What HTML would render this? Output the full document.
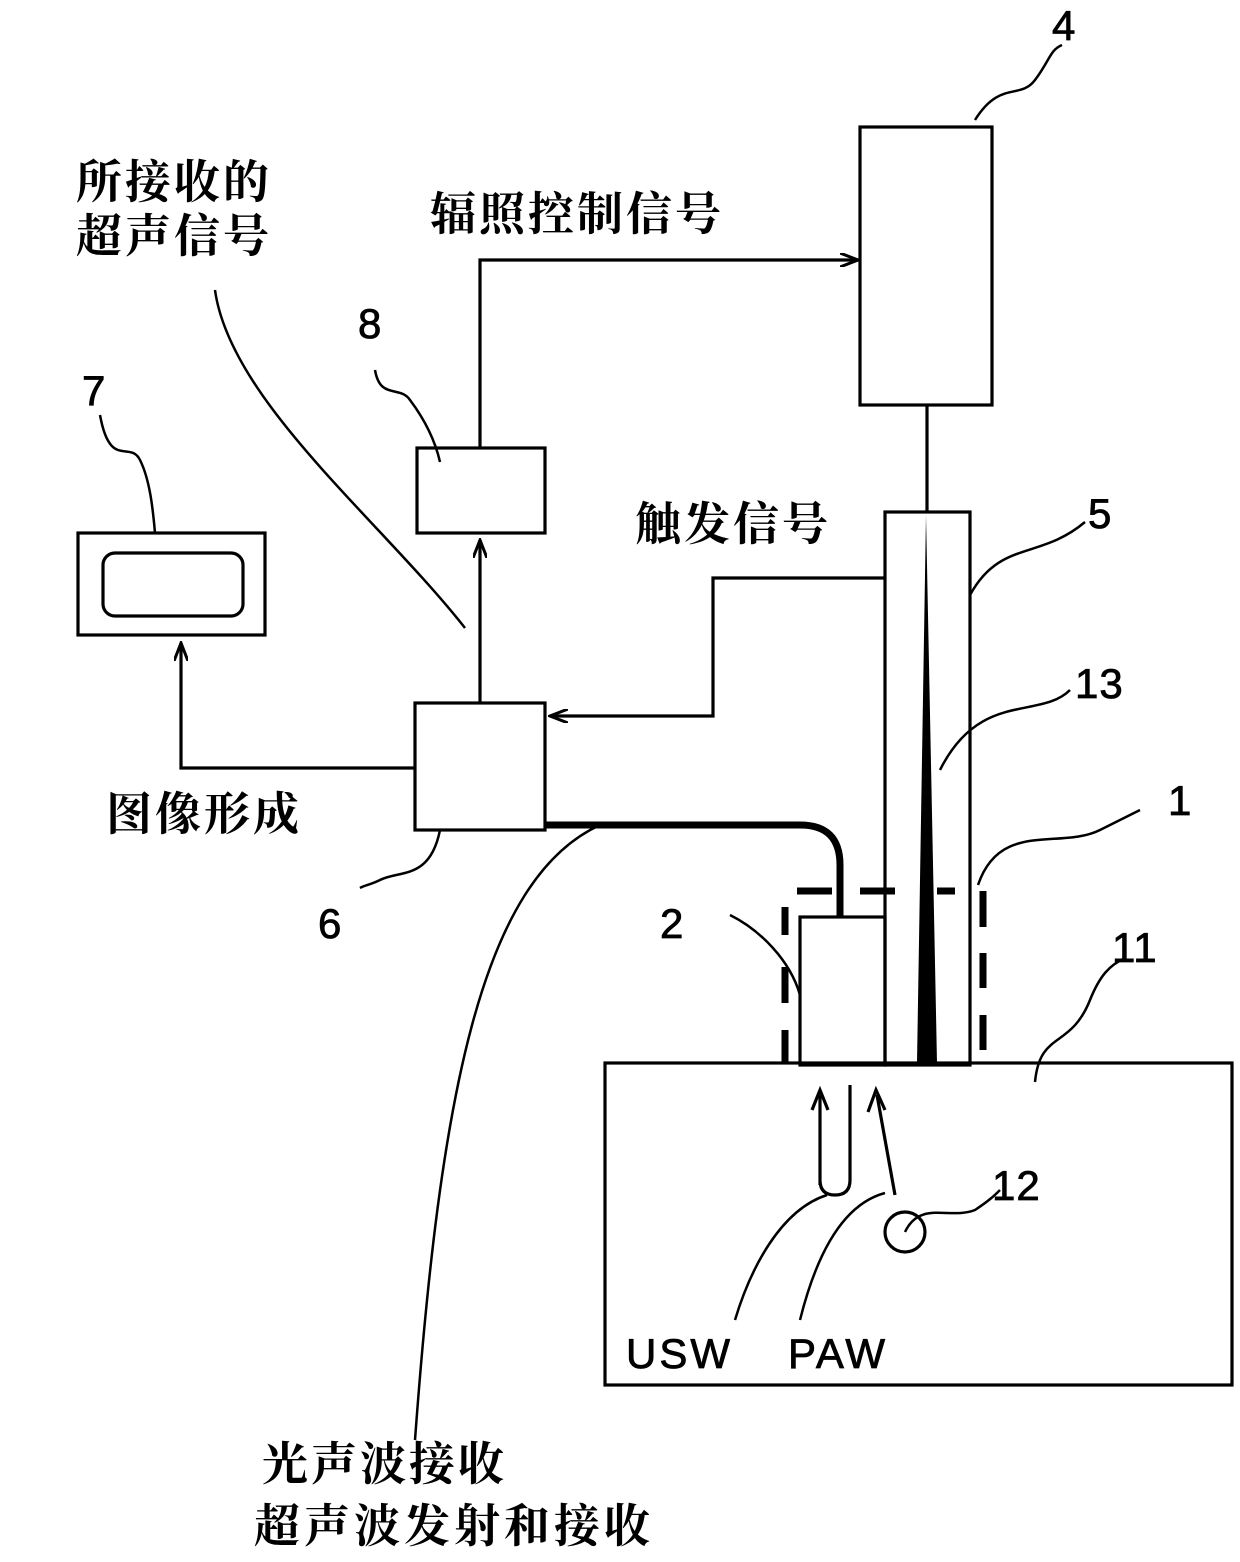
<!DOCTYPE html>
<html><head><meta charset="utf-8"><style>
html,body{margin:0;padding:0;background:#fff}
svg{display:block}
text{font-family:"Liberation Serif","Noto Serif CJK SC",serif;font-weight:bold;fill:#000;letter-spacing:3px}
.n{font-family:"Liberation Sans","Noto Sans CJK SC",sans-serif;font-weight:normal;font-size:42px;letter-spacing:1px;stroke:#000;stroke-width:0.8}
</style></head><body>
<svg width="1240" height="1562" viewBox="0 0 1240 1562" xmlns="http://www.w3.org/2000/svg">
<defs><marker id="b" markerWidth="20" markerHeight="14" refX="18" refY="7" orient="auto" markerUnits="userSpaceOnUse"><path d="M0,0 L18,7 L0,14" fill="none" stroke="#000" stroke-width="3"/></marker></defs>
<g fill="none" stroke="#000" stroke-width="3.2">
<rect x="860" y="127" width="132" height="278"/>
<line x1="927" y1="405" x2="927" y2="512"/>
<rect x="885" y="512" width="85" height="553"/>
<rect x="800" y="917" width="85" height="148"/>
<rect x="605" y="1063" width="627" height="322"/>
<rect x="415" y="703" width="130" height="127"/>
<rect x="417" y="448" width="128" height="85"/>
<rect x="78" y="533" width="187" height="102"/>
<rect x="103" y="553" width="140" height="63" rx="12"/>
<line x1="480" y1="703" x2="480" y2="540" marker-end="url(#b)"/>
<polyline points="480,448 480,260 858,260" marker-end="url(#b)"/>
<polyline points="885,578 713,578 713,716 550,716" marker-end="url(#b)"/>
<polyline points="415,768 181,768 181,643" marker-end="url(#b)"/>
<path d="M545,825 L800,825 Q840,825 840,865 L840,917" stroke-width="7"/>
<g stroke-width="7"><line x1="797" y1="891" x2="832" y2="891"/><line x1="860" y1="891" x2="895" y2="891"/><line x1="937" y1="891" x2="955" y2="891"/>
<line x1="785" y1="907" x2="785" y2="935"/><line x1="785" y1="967" x2="785" y2="1003"/><line x1="785" y1="1030" x2="785" y2="1063"/>
<line x1="983" y1="891" x2="983" y2="927"/><line x1="983" y1="953" x2="983" y2="988"/><line x1="983" y1="1015" x2="983" y2="1050"/></g>
<path d="M820,1185 L820,1095 M850,1085 L850,1180 Q850,1195 835,1195 Q820,1195 820,1180"/>
<path d="M812,1110 L820,1090 L828,1110"/>
<line x1="895" y1="1195" x2="877" y2="1095"/>
<path d="M868,1112 L876,1090 L885,1110"/>
<circle cx="905" cy="1232" r="20"/>
<g stroke-width="2.5">
<path d="M975,120 C1000,80 1020,100 1035,80 C1050,60 1050,50 1062,45"/>
<path d="M970,595 C1000,540 1040,560 1085,522"/>
<path d="M940,770 C980,690 1040,720 1070,690"/>
<path d="M978,885 C1000,820 1060,850 1100,830 C1120,820 1130,815 1140,810"/>
<path d="M1035,1082 C1040,1030 1070,1050 1090,1000 C1100,975 1110,965 1125,958"/>
<path d="M905,1232 C920,1200 950,1220 975,1210 C990,1200 995,1195 1000,1190"/>
<path d="M827,1195 C780,1210 750,1270 735,1320"/>
<path d="M885,1193 C840,1205 815,1260 800,1320"/>
<path d="M440,830 C430,880 400,870 380,880 C370,885 365,885 360,888"/>
<path d="M375,370 C380,400 400,385 410,400 C425,420 435,440 440,462"/>
<path d="M100,415 C110,470 130,440 140,460 C150,480 153,510 155,533"/>
<path d="M215,290 C230,400 380,520 465,628"/>
<path d="M600,825 C480,880 440,1100 415,1440"/>
<path d="M800,995 C790,960 760,930 730,915"/>
</g>
</g>
<path d="M926,515 L917,1063 L937,1063 Z" fill="#000"/>
<text class="n" x="1052" y="40">4</text>
<text class="n" x="1088" y="528">5</text>
<text class="n" x="1075" y="698">13</text>
<text class="n" x="1168" y="815">1</text>
<text class="n" x="1112" y="962">11</text>
<text class="n" x="992" y="1200">12</text>
<text class="n" x="660" y="938">2</text>
<text class="n" x="318" y="938">6</text>
<text class="n" x="358" y="338">8</text>
<text class="n" x="82" y="405">7</text>
<text class="n" x="626" y="1368" style="letter-spacing:3px">USW</text>
<text class="n" x="788" y="1368" style="letter-spacing:3px">PAW</text>
<text x="76" y="198" font-size="46">所接收的</text>
<text x="76" y="252" font-size="46">超声信号</text>
<text x="430" y="230" font-size="46">辐照控制信号</text>
<text x="635" y="540" font-size="46">触发信号</text>
<text x="106" y="830" font-size="46">图像形成</text>
<text x="262" y="1480" font-size="46">光声波接收</text>
<text x="254" y="1542" font-size="46" style="letter-spacing:4px">超声波发射和接收</text>
</svg>
</body></html>
